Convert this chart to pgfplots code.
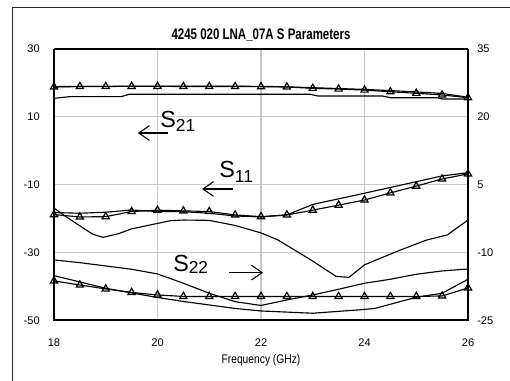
\documentclass[border=0pt]{standalone}
\usepackage{pgfplots}
\pgfplotsset{compat=1.18}
\usepackage{fontspec}
\setmainfont{Liberation Sans}
\usetikzlibrary{arrows.meta}
\begin{document}
\begin{tikzpicture}
\draw[line width=0.75pt, black!85] (9pt,-10pt) |- (400pt,279.75pt);
\pgfplotsset{
  lines/.style={black, line width=0.85pt},
  tri/.style={black, line width=0.85pt, mark=triangle, mark size=3.1pt, mark options={solid, fill=white, line width=0.9pt}},
  tl/.style={font=\fontsize{8.3}{10}\selectfont, inner sep=0pt}
}
\begin{axis}[
  at={(40.5pt,45.4pt)}, anchor=south west,
  scale only axis, width=310.5pt, height=203.6pt,
  xmin=18, xmax=26, ymin=-50, ymax=30,
  xtick={18,20,22,24,26}, xticklabels={18,20,22,24,26},
  ytick={-50,-30,-10,10,30}, yticklabels={-50,-30,-10,10,30},
  grid=major, major grid style={draw=black!22, line width=0.8pt},
  axis line style={draw=none},
  tick style={draw=none},
  xticklabel style={tl, anchor=north, yshift=-13.3pt},
  yticklabel style={tl, anchor=east, xshift=-10.5pt},
  clip=false,
]
% S21 group
\addplot[lines] coordinates {(18,18.4) (18.1,18.95) (20,19.05) (22,19.0) (22.5,18.85) (23,18.6) (23.5,18.35) (24,18.1) (24.5,17.75) (25,17.35) (25.5,16.9) (26,15.8)};
\addplot[lines] coordinates {(18,15.47) (18.3,15.95) (19.3,15.95) (19.45,16.65) (22.95,16.65) (23.1,16.15) (24.35,16.15) (24.5,15.65) (25.4,15.65) (25.5,15.27) (26,15.27)};
\addplot[tri] coordinates {(18,18.8) (18.5,18.95) (19,18.95) (19.5,19.0) (20,19.0) (20.5,18.95) (21,18.95) (21.5,18.95) (22,18.9) (22.5,18.8) (23,18.42) (23.5,18.2) (24,17.9) (24.5,17.4) (25,16.95) (25.5,16.45) (26,15.65)};
% S11 group
\addplot[lines] coordinates {(18,-18.2) (18.5,-18.4) (19,-18.1) (19.5,-17.45) (20,-17.9) (20.5,-17.95) (21,-18.4) (21.5,-19.2) (22,-19.5) (22.5,-18.9) (23,-15.8) (24,-12.5) (25,-9.1) (25.5,-7.4) (26,-6.45)};
\addplot[tri] coordinates {(18,-18.8) (18.5,-19.5) (19,-19.4) (19.5,-17.9) (20,-17.5) (20.5,-17.7) (21,-17.9) (21.5,-18.9) (22,-19.4) (22.5,-18.9) (23,-17.5) (23.5,-16.0) (24,-14.5) (24.5,-12.4) (25,-10.4) (25.5,-8.3) (26,-6.8)};
\addplot[lines] coordinates {(18,-16.9) (18.25,-19.6) (18.5,-22.1) (18.75,-24.6) (18.95,-25.5) (19.25,-24.4) (19.5,-23.0) (20,-21.4) (20.25,-20.6) (20.5,-20.4) (21,-20.5) (21.5,-22.0) (22,-24.2) (22.33,-26.3) (23,-32.5) (23.45,-37.0) (23.7,-37.3) (24,-33.6) (24.7,-29.2) (25.2,-26.3) (25.6,-24.8) (26,-20.4)};
% S22 group
\addplot[lines] coordinates {(18,-32.17) (18.5,-32.96) (19,-33.94) (19.5,-34.91) (20,-36.29) (20.5,-39.03) (21,-41.98) (21.5,-44.46) (22,-45.58) (22.5,-43.95) (23,-42.48) (23.5,-40.80) (24,-39.03) (24.5,-37.86) (25,-36.38) (25.5,-35.41) (26,-34.82)};
\addplot[lines] coordinates {(18,-36.79) (18.5,-38.65) (19,-40.51) (19.5,-41.89) (20,-43.22) (20.5,-44.40) (21,-45.43) (21.5,-46.46) (22,-47.20) (23,-47.87) (24,-46.75) (24.2,-46.46) (25,-43.16) (25.5,-41.98) (26,-37.86)};
\addplot[tri] coordinates {(18,-38.36) (18.5,-39.54) (19,-40.71) (19.5,-41.74) (20,-42.48) (20.5,-42.92) (21,-42.92) (21.5,-42.92) (22,-42.92) (22.5,-42.92) (23,-42.92) (23.5,-42.92) (24,-42.92) (24.5,-42.92) (25,-42.92) (25.5,-42.78) (26,-40.42)};
% frame of the plot area
\draw[line width=0.8pt] (rel axis cs:0,1) -- (rel axis cs:1,1);
\draw[line width=1.5pt] (rel axis cs:0,1) -- (rel axis cs:0,0) -- (rel axis cs:1,0) -- (rel axis cs:1,1);
% title and label
\node[anchor=base, inner sep=0pt] at (rel axis cs:0.5,1) [yshift=7.5pt] {\scalebox{0.75}[1]{\bfseries\fontsize{11.5}{13}\selectfont 4245 020 LNA\_07A S Parameters}};
\node[anchor=base, inner sep=0pt] at (rel axis cs:0.5,0) [yshift=-32.6pt] {\scalebox{0.82}[1]{\fontsize{9.4}{11}\selectfont Frequency (GHz)}};
% annotations
\node[anchor=base west, inner sep=0pt] at (axis cs:20.05,7.0) {\fontsize{17.5}{20}\selectfont S\raisebox{-3.5pt}{\fontsize{13}{15}\selectfont 21}};
\draw[line width=0.8pt, -{Straight Barb[length=8pt,width=11pt]}] (axis cs:20.2,5.25) -- (axis cs:19.62,5.25);
\node[anchor=base west, inner sep=0pt] at (axis cs:21.19,-8.0) {\fontsize{17.5}{20}\selectfont S\raisebox{-3.5pt}{\fontsize{13}{15}\selectfont 11}};
\draw[line width=0.8pt, -{Straight Barb[length=8pt,width=11pt]}] (axis cs:21.46,-11.25) -- (axis cs:20.86,-11.25);
\node[anchor=base west, inner sep=0pt] at (axis cs:20.30,-35.5) {\fontsize{17.5}{20}\selectfont S\raisebox{-1.5pt}{\fontsize{13}{15}\selectfont 22}};
\draw[line width=0.8pt, -{Straight Barb[length=8pt,width=11pt]}] (axis cs:21.38,-35.9) -- (axis cs:22.04,-35.9);
\end{axis}
\begin{axis}[
  at={(40.5pt,45.4pt)}, anchor=south west,
  scale only axis, width=310.5pt, height=203.6pt,
  xmin=18, xmax=26, ymin=-25, ymax=35,
  axis x line=none, axis y line*=right,
  ytick={-25,-10,5,20,35}, yticklabels={-25,-10,5,20,35},
  axis line style={draw=none},
  tick style={draw=none},
  yticklabel style={tl, anchor=west, xshift=6.75pt},
]
\end{axis}
\pgfresetboundingbox
\useasboundingbox (0,0) rectangle (382.5pt,285.75pt);
\end{tikzpicture}
\end{document}
